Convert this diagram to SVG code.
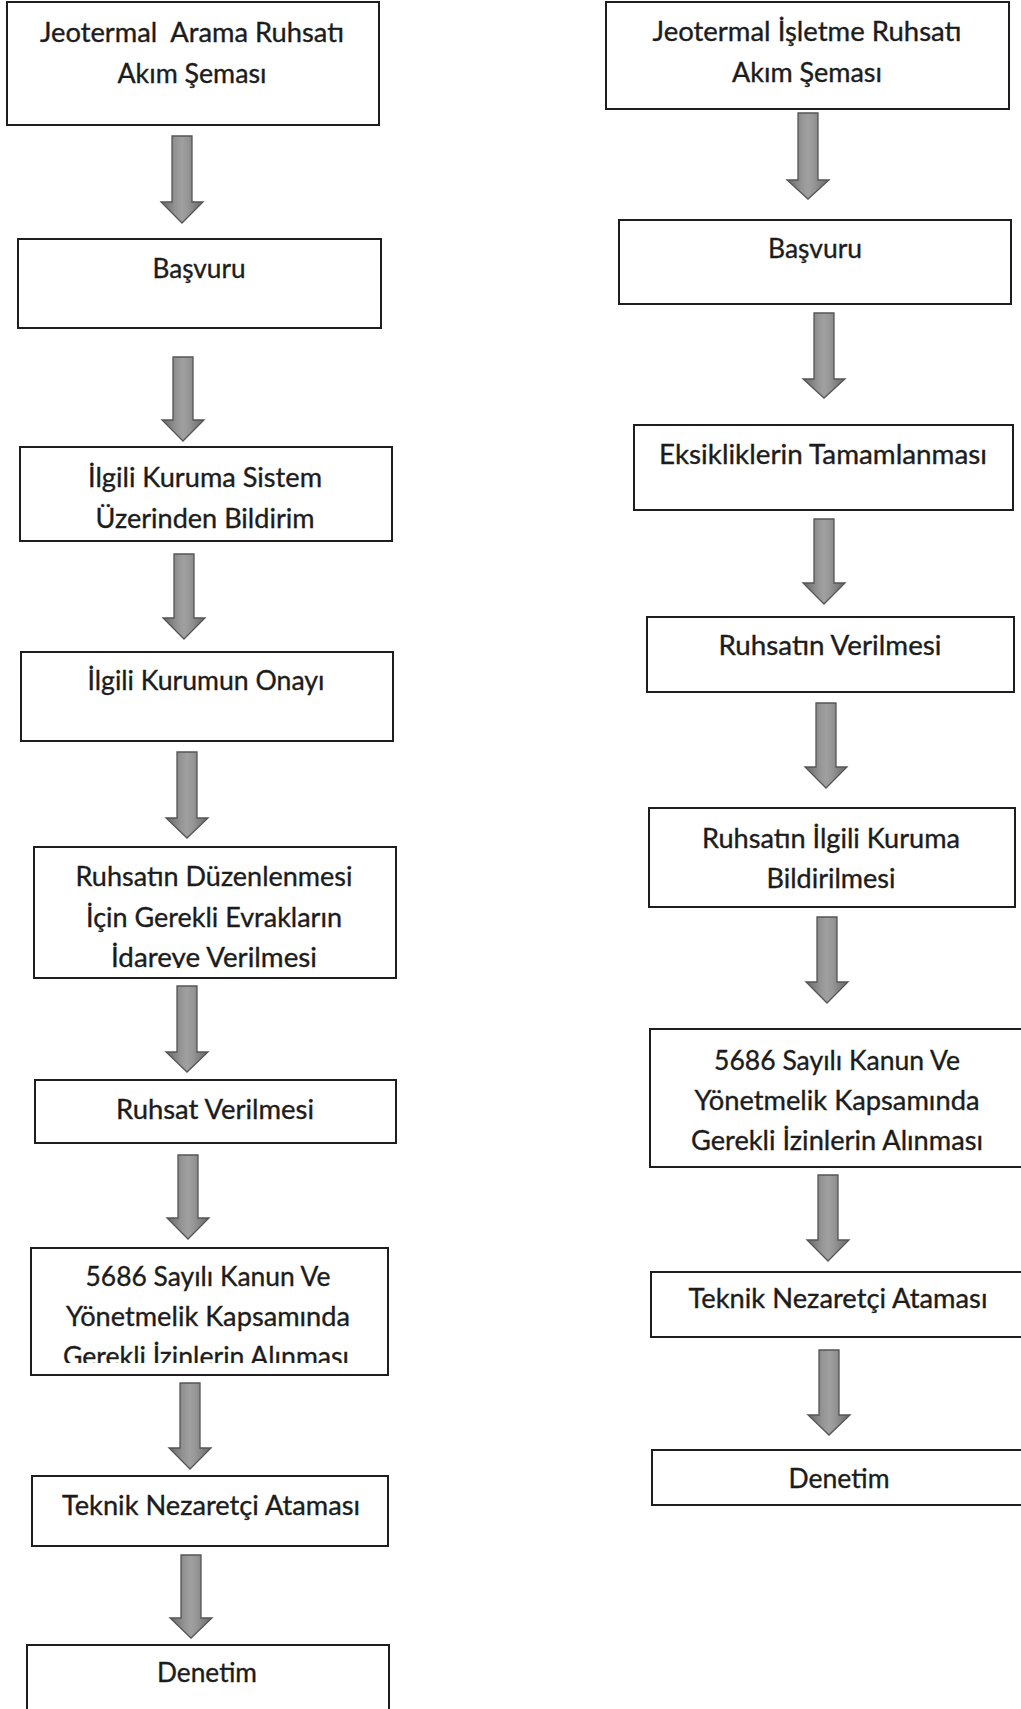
<svg xmlns="http://www.w3.org/2000/svg" width="1021" height="1709" viewBox="0 0 1021 1709">
<style>
.box{fill:#fff;stroke:#1e1e1e;stroke-width:2}
.t{font-family:Lato,"Liberation Sans",sans-serif;font-size:27px;fill:#1c1c1c;stroke:#1c1c1c;stroke-width:0.35;text-anchor:middle}
.arrow{fill:url(#ag);stroke:#555;stroke-width:1.3;stroke-linejoin:miter}
</style>
<defs>
<linearGradient id="ag" x1="0" y1="0" x2="1" y2="0">
<stop offset="0" stop-color="#666"/>
<stop offset="0.35" stop-color="#959595"/>
<stop offset="0.5" stop-color="#a0a0a0"/>
<stop offset="0.65" stop-color="#959595"/>
<stop offset="1" stop-color="#666"/>
</linearGradient>
<clipPath id="clipL5"><rect x="34" y="935" width="362" height="33"/></clipPath>
<clipPath id="clipL7"><rect x="31" y="1335" width="357" height="28"/></clipPath>
</defs>
<rect width="1021" height="1709" fill="#fff"/>
<g id="connectors">
<polygon class="arrow" points="172,136 192,136 192,202 203,202 182,223 161,202 172,202"/>
<polygon class="arrow" points="173,357 193,357 193,420 204,420 183,441 162,420 173,420"/>
<polygon class="arrow" points="174,554 194,554 194,618 205,618 184,639 163,618 174,618"/>
<polygon class="arrow" points="177,752 197,752 197,818 208,818 187,838 166,818 177,818"/>
<polygon class="arrow" points="177,986 197,986 197,1052 208,1052 187,1072 166,1052 177,1052"/>
<polygon class="arrow" points="178,1155 198,1155 198,1218 209,1218 188,1239 167,1218 178,1218"/>
<polygon class="arrow" points="180,1383 200,1383 200,1448 211,1448 190,1469 169,1448 180,1448"/>
<polygon class="arrow" points="181,1555 201,1555 201,1618 212,1618 191,1638 170,1618 181,1618"/>
<polygon class="arrow" points="798,113 818,113 818,180 829,180 808,199 787,180 798,180"/>
<polygon class="arrow" points="814,313 834,313 834,379 845,379 824,398 803,379 814,379"/>
<polygon class="arrow" points="814,519 834,519 834,583 845,583 824,604 803,583 814,583"/>
<polygon class="arrow" points="816,703 836,703 836,767 847,767 826,788 805,767 816,767"/>
<polygon class="arrow" points="817,917 837,917 837,982 848,982 827,1003 806,982 817,982"/>
<polygon class="arrow" points="818,1175 838,1175 838,1240 849,1240 828,1261 807,1240 818,1240"/>
<polygon class="arrow" points="819,1350 839,1350 839,1415 850,1415 829,1435 808,1415 819,1415"/>
</g>
<g id="L1"><rect class="box" x="7" y="2" width="372" height="123"/>
<text class="t" x="192" y="42" textLength="304" lengthAdjust="spacingAndGlyphs" style="white-space:pre" xml:space="preserve">Jeotermal  Arama Ruhsatı</text>
<text class="t" x="192" y="83" textLength="149" lengthAdjust="spacingAndGlyphs">Akım Şeması</text></g>
<g id="L2"><rect class="box" x="18" y="239" width="363" height="89"/>
<text class="t" x="199" y="278" textLength="93" lengthAdjust="spacingAndGlyphs">Başvuru</text></g>
<g id="L3"><rect class="box" x="20" y="447" width="372" height="94"/>
<text class="t" x="205" y="487" textLength="234" lengthAdjust="spacingAndGlyphs">İlgili Kuruma Sistem</text>
<text class="t" x="205" y="528" textLength="219" lengthAdjust="spacingAndGlyphs">Üzerinden Bildirim</text></g>
<g id="L4"><rect class="box" x="21" y="652" width="372" height="89"/>
<text class="t" x="206" y="690" textLength="237" lengthAdjust="spacingAndGlyphs">İlgili Kurumun Onayı</text></g>
<g id="L5"><rect class="box" x="34" y="847" width="362" height="131"/>
<text class="t" x="214" y="886" textLength="277" lengthAdjust="spacingAndGlyphs">Ruhsatın Düzenlenmesi</text>
<text class="t" x="214" y="927" textLength="256" lengthAdjust="spacingAndGlyphs">İçin Gerekli Evrakların</text>
<text class="t" x="214" y="967" textLength="206" lengthAdjust="spacingAndGlyphs" clip-path="url(#clipL5)">İdareye Verilmesi</text></g>
<g id="L6"><rect class="box" x="35" y="1080" width="361" height="63"/>
<text class="t" x="215" y="1119" textLength="198" lengthAdjust="spacingAndGlyphs">Ruhsat Verilmesi</text></g>
<g id="L7"><rect class="box" x="31" y="1248" width="357" height="127"/>
<text class="t" x="208" y="1286" textLength="245" lengthAdjust="spacingAndGlyphs">5686 Sayılı Kanun Ve</text>
<text class="t" x="208" y="1326" textLength="284" lengthAdjust="spacingAndGlyphs">Yönetmelik Kapsamında</text>
<text class="t" x="206" y="1366" textLength="286" lengthAdjust="spacingAndGlyphs" clip-path="url(#clipL7)">Gerekli İzinlerin Alınması</text></g>
<g id="L8"><rect class="box" x="32" y="1476" width="356" height="70"/>
<text class="t" x="211" y="1515" textLength="298" lengthAdjust="spacingAndGlyphs">Teknik Nezaretçi Ataması</text></g>
<g id="L9"><rect class="box" x="27" y="1645" width="362" height="80"/>
<text class="t" x="207" y="1682" textLength="100" lengthAdjust="spacingAndGlyphs">Denetim</text></g>
<g id="R1"><rect class="box" x="606" y="2" width="403" height="107"/>
<text class="t" x="807" y="41" textLength="309" lengthAdjust="spacingAndGlyphs">Jeotermal İşletme Ruhsatı</text>
<text class="t" x="807" y="82" textLength="150" lengthAdjust="spacingAndGlyphs">Akım Şeması</text></g>
<g id="R2"><rect class="box" x="619" y="220" width="392" height="84"/>
<text class="t" x="815" y="258" textLength="94" lengthAdjust="spacingAndGlyphs">Başvuru</text></g>
<g id="R3"><rect class="box" x="634" y="425" width="379" height="85"/>
<text class="t" x="823" y="464" textLength="328" lengthAdjust="spacingAndGlyphs">Eksikliklerin Tamamlanması</text></g>
<g id="R4"><rect class="box" x="647" y="617" width="367" height="75"/>
<text class="t" x="830" y="655" textLength="223" lengthAdjust="spacingAndGlyphs">Ruhsatın Verilmesi</text></g>
<g id="R5"><rect class="box" x="649" y="808" width="366" height="99"/>
<text class="t" x="831" y="848" textLength="258" lengthAdjust="spacingAndGlyphs">Ruhsatın İlgili Kuruma</text>
<text class="t" x="831" y="888" textLength="129" lengthAdjust="spacingAndGlyphs">Bildirilmesi</text></g>
<g id="R6"><rect class="box" x="650" y="1029" width="380" height="138"/>
<text class="t" x="837" y="1070" textLength="246" lengthAdjust="spacingAndGlyphs">5686 Sayılı Kanun Ve</text>
<text class="t" x="837" y="1110" textLength="285" lengthAdjust="spacingAndGlyphs">Yönetmelik Kapsamında</text>
<text class="t" x="837" y="1150" textLength="292" lengthAdjust="spacingAndGlyphs">Gerekli İzinlerin Alınması</text></g>
<g id="R7"><rect class="box" x="651" y="1272" width="380" height="65"/>
<text class="t" x="838" y="1308" textLength="299" lengthAdjust="spacingAndGlyphs">Teknik Nezaretçi Ataması</text></g>
<g id="R8"><rect class="box" x="652" y="1450" width="380" height="55"/>
<text class="t" x="839" y="1488" textLength="101" lengthAdjust="spacingAndGlyphs">Denetim</text></g>
</svg>
